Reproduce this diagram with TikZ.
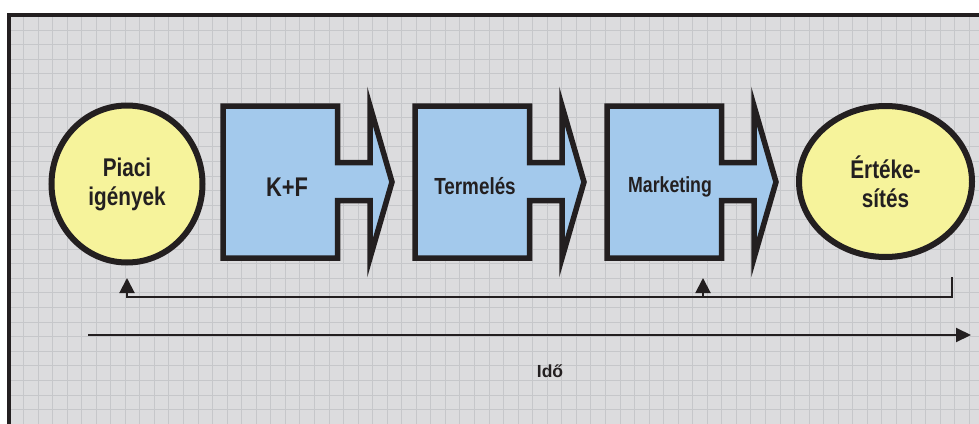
\documentclass[tikz,border=0pt]{standalone}
\usepackage{fontspec}
\setmainfont{Liberation Sans}
\newfontfamily\narrowsf{Liberation Sans}[FakeStretch=0.81]
\usetikzlibrary{arrows.meta,shapes.geometric}
\definecolor{ink}{HTML}{231F20}
\definecolor{paper}{HTML}{DCDCDE}
\definecolor{gridln}{HTML}{C6C7CA}
\definecolor{stage}{HTML}{A3C9EC}
\definecolor{pole}{HTML}{F6F39B}
\tikzset{
  endpt/.style={ellipse,draw=ink,fill=pole,line width=6pt,inner sep=0pt,align=center,text=ink,
    font=\narrowsf\bfseries\fontsize{25.6}{29}\selectfont},
  stagebox/.style={draw=ink,fill=stage,line width=5.5pt},
  lab/.style={text=ink,inner sep=0pt,font=\narrowsf\bfseries\fontsize{#1}{#1}\selectfont},
  fb/.style={draw=ink,line width=2pt,-{Triangle[width=15pt,length=15pt]}},
}

\begin{document}
\begin{tikzpicture}[x=1pt,y=-1pt]
  \useasboundingbox (0,0) rectangle (979,423);
  \clip (0,0) rectangle (979,423);

  % squared paper panel
  \fill[paper] (9,15) rectangle (995,445);
  \foreach \gx in {1,...,67}
    \draw[gridln,line width=0.8pt] ({8.8+14.55*\gx},15) -- ++(0,430);
  \foreach \gy in {1,...,29}
    \draw[gridln,line width=0.8pt] (9,{15.3+14.6*\gy}) -- ++(990,0);
  \draw[ink,line width=4.5pt] (995,15) -- (9,15) -- (9,445);

  % the two ends of the chain
  \node[endpt,minimum width=151pt,minimum height=157pt] (piac) at (127,184) {Piaci\\igények};
  \node[endpt,minimum width=173pt,minimum height=151pt] (ert) at (885.5,181.5) {Értéke-\\sítés};

  % stages: box with an arrow stuck on the right
  \foreach \lx in {220,412,604}
    \draw[stagebox,shift={(\lx,0)}] (3,106) -- (117.5,106) -- (117.5,162.5) -- (150,162.5)
      -- (150,106) -- (172,182) -- (150,258) -- (150,200.5) -- (117.5,200.5)
      -- (117.5,258) -- (3,258) -- cycle;
  \node[lab=27] (kf) at (287,187) {K+F};
  \node[lab=23.3] (term) at (475,186) {Termelés};
  \node[lab=21.9] (mkt) at (670,187) {Marketing};

  % feedback line
  \coordinate (fbR) at (952,277);
  \coordinate (fbL) at (127,278);
  \coordinate (fbM) at (703,278);
  \coordinate (fbY) at (0,297);
  \draw[fb] (fbR) -- (fbR |- fbY) -| (fbL);
  \draw[fb] (fbM |- fbY) -- (fbM);

  % time axis
  \coordinate (t0) at (88,335);
  \coordinate (t1) at (971,335);
  \draw[fb,-{Triangle[width=14pt,length=15pt]}] (t0) -- (t1);
  \node[text=ink,inner sep=0pt,font=\bfseries\fontsize{17.5}{17.5}\selectfont] (ido) at (550,371.5) {Idő};
\end{tikzpicture}
\end{document}
